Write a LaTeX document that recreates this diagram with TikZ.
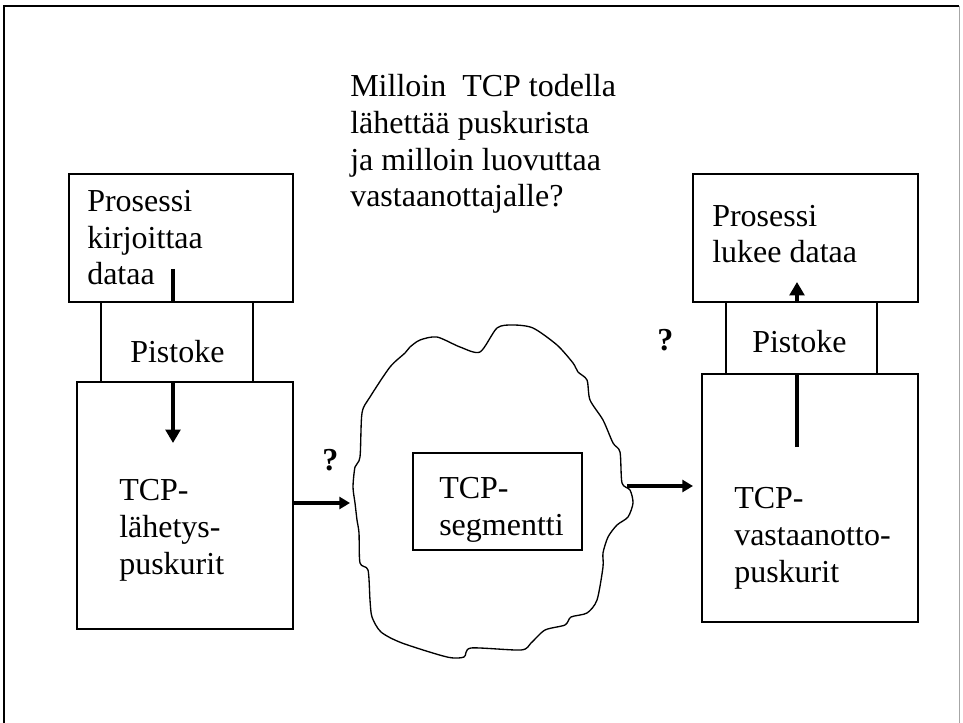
\documentclass[tikz,border=0pt]{standalone}
\usepackage{fontspec}
\setmainfont{Liberation Serif}
\usetikzlibrary{arrows.meta}
\tikzset{
  box/.style={draw, line width=1pt, inner sep=0pt, outer sep=0pt},
  sockbox/.style={box, fill=white},
  txt/.style={anchor=base west, align=left, inner sep=0pt, font=\fontsize{24pt}{27.5pt}\selectfont},
  qmark/.style={anchor=base west, inner sep=0pt, font=\fontsize{24pt}{27.5pt}\selectfont\bfseries},
  bigarrow/.style={line width=2.4pt, -{Triangle[length=10pt,width=11pt]}},
  smallarrow/.style={line width=2.4pt, -{Triangle[length=8pt,width=9pt]}},
  cloudline/.style={line width=1pt, line join=round},
}
\begin{document}
\begin{tikzpicture}[x=0.75pt,y=-0.75pt]
\useasboundingbox (0,0) rectangle (963,723);
% frame
\draw[line width=2.2pt] (4,723) -- (4,6) -- (959,6);
\draw[line width=0.6pt, black!35] (959,6) -- (959,723);

% title (anchor = baseline of last line)
\node[txt] (title) at (350,207) {Milloin\ \ TCP todella\\lähettää puskurista\\ja milloin luovuttaa\\vastaanottajalle?};

% left stack
\node[box, minimum width={224*0.75pt}, minimum height={128*0.75pt}] (ptop) at (181,238) {};
\node[box, minimum width={216*0.75pt}, minimum height={247*0.75pt}] (pbuf) at (185,505.5) {};
\coordinate (ls) at (173,269);
\coordinate (le) at (173,443);
\draw[bigarrow] (ls) -- (le);
\node[sockbox, minimum width={152*0.75pt}, minimum height={80*0.75pt}] (psock) at (177,342) {};
\node[txt] (ptoptxt) at (87,285) {Prosessi\\kirjoittaa\\dataa};
\node[txt] (psocktxt) at (130,363) {Pistoke};
\node[txt] (pbuftxt) at (119,574) {TCP-\\lähetys-\\puskurit};

% right stack
\node[box, minimum width={225*0.75pt}, minimum height={128*0.75pt}] (rtop) at (805.5,238) {};
\node[box, minimum width={216*0.75pt}, minimum height={248*0.75pt}] (rbuf) at (810,498) {};
\coordinate (rs) at (797,447);
\coordinate (re) at (797,282);
\draw[bigarrow] (rs) -- (re);
\node[sockbox, minimum width={151*0.75pt}, minimum height={72*0.75pt}] (rsock) at (801.5,338) {};
\node[txt] (rtoptxt) at (712,263) {Prosessi\\lukee dataa};
\node[txt] (rsocktxt) at (752,353) {Pistoke};
\node[txt] (rbuftxt) at (734,582) {TCP-\\vastaanotto-\\puskurit};

% cloud
\draw[cloudline] plot[smooth cycle, tension=0.45] coordinates {
(480,352) (497,328) (513,325) (533,328) (557,345) (573,363) (578,372) (587,380)
(590,400) (603,420) (613,443) (620,452) (622,483) (630,490) (633,503) (628,517)
(617,525) (608,537) (603,553) (603,567) (597,600) (587,613) (571,617) (565,625)
(545,630) (531,643) (521,650) (471,648) (464,657) (447,657) (402,643) (381,632)
(372,617) (370,600) (368,570) (360,563) (359,533) (357,520) (355,503) (353,487)
(355,467) (360,457) (362,413) (370,397) (390,367) (405,353) (410,347) (420,340)
(437,337) (460,347)};
\coordinate (cloudw) at (350,503);
\coordinate (cloude) at (627,486);

\node[box, minimum width={169*0.75pt}, minimum height={97*0.75pt}] (seg) at (497.5,501.5) {};
\node[txt] (segtxt) at (439,535) {TCP-\\segmentti};

% horizontal arrows
\coordinate (pbufout) at (293,503);
\coordinate (rbufin) at (693,486);
\draw[smallarrow] (pbufout) -- (cloudw);
\draw[smallarrow] (cloude) -- (rbufin);

% question marks
\node[qmark] (q1) at (322,470) {?};
\node[qmark] (q2) at (657,350) {?};
\end{tikzpicture}
\end{document}
